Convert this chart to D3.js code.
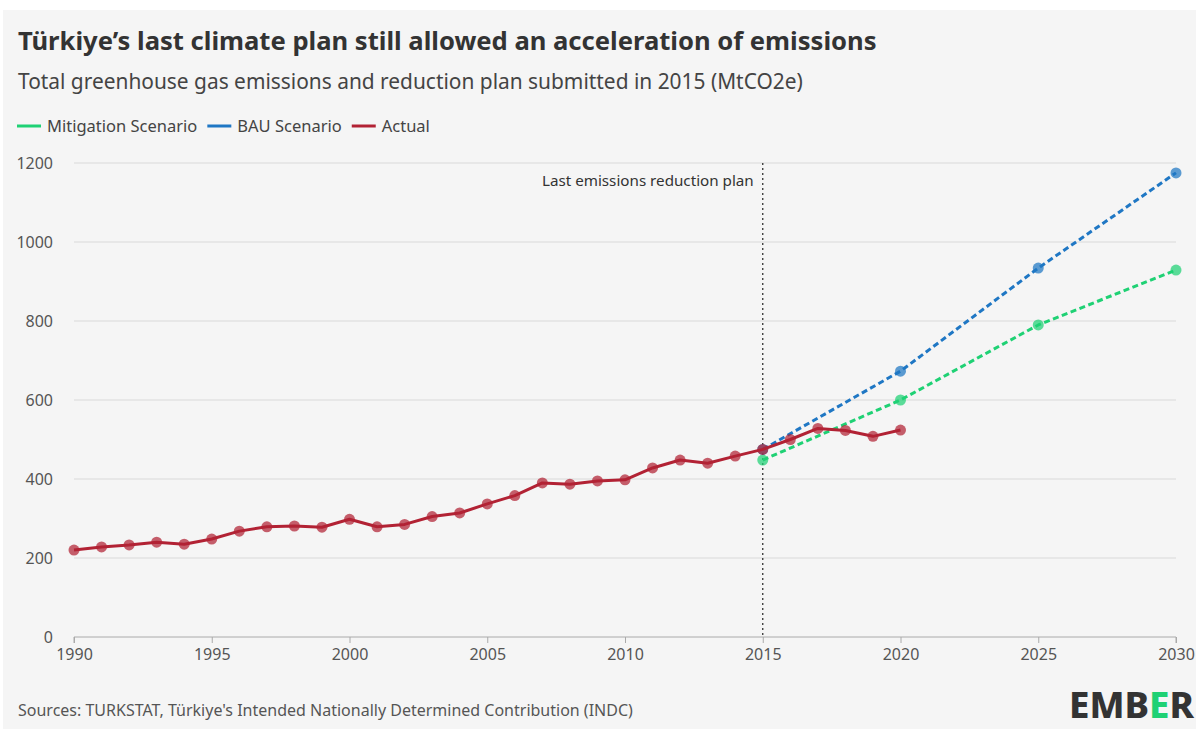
<!DOCTYPE html>
<html>
<head>
<meta charset="utf-8">
<script src="https://cdn.jsdelivr.net/npm/d3@7"></script>
<style>
  html, body { margin: 0; padding: 0; background: #ffffff; }
  svg { display: block; }
  text { font-family: "Noto Sans", "Open Sans", sans-serif; }
</style>
</head>
<body>
<svg id="chart" width="1196" height="729"></svg>
<script>
// Total GHG emissions, MtCO2e
const actualYears = d3.range(1990, 2021);
const actualValues = [220, 228, 233, 240, 235, 248, 268, 279, 281, 278,
                      298, 279, 285, 305, 314, 337, 358, 390, 387, 395,
                      398, 428, 448, 440, 458, 475, 500, 528, 523, 508, 524];
const scenarioYears = [2015, 2020, 2025, 2030];
const bauValues = [475, 673, 934, 1175];
const mitigationValues = [448, 600, 790, 929];

const yTicks = [0, 200, 400, 600, 800, 1000, 1200];
const xTicks = [1990, 1995, 2000, 2005, 2010, 2015, 2020, 2025, 2030];

const seriesNames = ["Mitigation Scenario", "BAU Scenario", "Actual"];
const seriesColors = ["#1fd174", "#1f77c4", "#b22234"];

const W = 1196, H = 729;
const svg = d3.select("#chart");

// panel background
svg.append("rect").attr("x", 3).attr("y", 10).attr("width", W - 3).attr("height", H - 10)
  .attr("fill", "#f5f5f5");

// headings
svg.append("text").attr("x", 18).attr("y", 50)
  .attr("font-size", 25.6).attr("font-weight", 700).attr("fill", "#333")
  .text("Türkiye’s last climate plan still allowed an acceleration of emissions");
svg.append("text").attr("x", 18).attr("y", 89)
  .attr("font-size", 20.9).attr("fill", "#444")
  .text("Total greenhouse gas emissions and reduction plan submitted in 2015 (MtCO2e)");

// legend
const legend = svg.append("g").attr("transform", "translate(17,126)");
let lx = 0;
seriesNames.forEach((name, i) => {
  const g = legend.append("g").attr("transform", `translate(${lx},0)`);
  g.append("line").attr("x1", 0).attr("x2", 24).attr("y1", 0).attr("y2", 0)
    .attr("stroke", seriesColors[i]).attr("stroke-width", 3);
  const t = g.append("text").attr("x", 30).attr("y", 6)
    .attr("font-size", 16.5).attr("fill", "#444").text(name);
  lx += 30 + t.node().getComputedTextLength() + 10;
});

// scales
const x = d3.scaleLinear().domain([1990, 2030]).range([74, 1176]);
const y = d3.scaleLinear().domain([0, 1200]).range([637, 163]);

// grid
svg.append("g").selectAll("line").data(yTicks.filter(d => d > 0)).join("line")
  .attr("x1", x(1990)).attr("x2", x(2030))
  .attr("y1", d => y(d)).attr("y2", d => y(d))
  .attr("stroke", "#d9d9d9").attr("stroke-width", 1);

// y axis labels
const yAxis = svg.append("g").attr("transform", `translate(${x(1990)},0)`)
  .call(d3.axisLeft(y).tickValues(yTicks).tickSize(0).tickPadding(21).tickFormat(d3.format("d")));
yAxis.select(".domain").remove();
yAxis.selectAll("text").attr("font-size", 16).attr("fill", "#555")
  .attr("font-family", "\"Noto Sans\", sans-serif");

// x axis
const xAxis = svg.append("g").attr("transform", `translate(0,${y(0)})`)
  .call(d3.axisBottom(x).tickValues(xTicks).tickSize(6).tickPadding(6).tickFormat(d3.format("d")));
xAxis.select(".domain").attr("stroke", "#aaa").attr("d", `M${x(1990)},6V0H${x(2030)}V6`);
xAxis.selectAll(".tick line").attr("stroke", "#aaa");
xAxis.selectAll("text").attr("font-size", 16).attr("fill", "#555")
  .attr("font-family", "\"Noto Sans\", sans-serif");

// 2015 plan marker
svg.append("line").attr("x1", x(2015)).attr("x2", x(2015))
  .attr("y1", y(1200)).attr("y2", y(0))
  .attr("stroke", "#333").attr("stroke-width", 1.3).attr("stroke-dasharray", "2,3");
svg.append("text").attr("x", x(2015) - 9).attr("y", 186)
  .attr("text-anchor", "end").attr("font-size", 15.2).attr("fill", "#333")
  .text("Last emissions reduction plan");

const line = d3.line().x(d => x(d[0])).y(d => y(d[1]));

function drawSeries(years, values, color, dashed) {
  const pts = years.map((yr, i) => [yr, values[i]]);
  svg.append("path").datum(pts).attr("d", line)
    .attr("fill", "none").attr("stroke", color).attr("stroke-width", 3)
    .attr("stroke-linejoin", "round")
    .attr("stroke-dasharray", dashed ? "6,3.5" : null);
  svg.append("g").selectAll("circle").data(pts).join("circle")
    .attr("cx", d => x(d[0])).attr("cy", d => y(d[1])).attr("r", 5.5)
    .attr("fill", color).attr("fill-opacity", 0.72);
}

drawSeries(scenarioYears, mitigationValues, seriesColors[0], true);
drawSeries(scenarioYears, bauValues, seriesColors[1], true);
drawSeries(actualYears, actualValues, seriesColors[2], false);

// footer
svg.append("text").attr("x", 18).attr("y", 716)
  .attr("font-size", 16).attr("fill", "#555")
  .text("Sources: TURKSTAT, Türkiye's Intended Nationally Determined Contribution (INDC)");

// logo
const logo = svg.append("text").attr("x", 1069).attr("y", 718)
  .attr("font-size", 36).attr("font-weight", 800).attr("fill", "#333")
  .attr("textLength", 125).attr("lengthAdjust", "spacingAndGlyphs")
  .attr("font-family", "\"DejaVu Sans\", sans-serif");
logo.append("tspan").text("EMB");
logo.append("tspan").attr("fill", "#1fd174").text("E");
logo.append("tspan").text("R");
</script>
</body>
</html>
